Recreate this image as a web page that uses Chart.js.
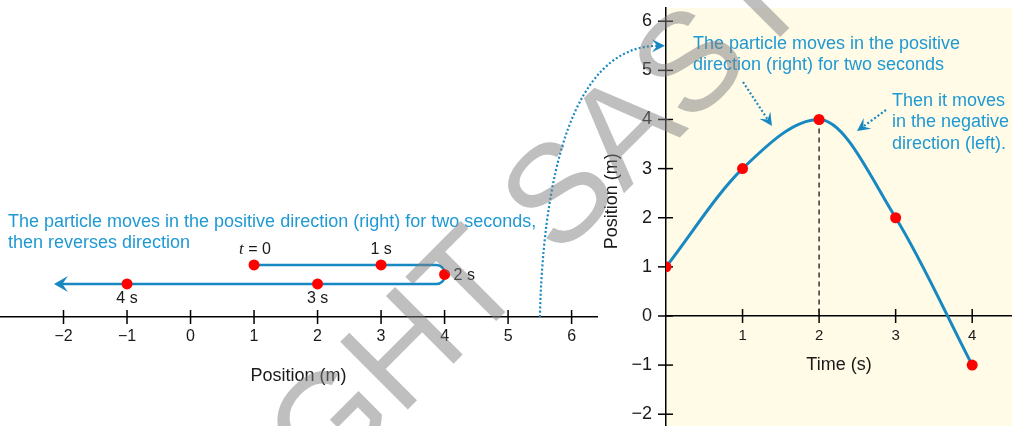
<!DOCTYPE html>
<html>
<head>
<meta charset="utf-8">
<script src="https://cdn.jsdelivr.net/npm/chart.js@4.4.0/dist/chart.umd.min.js"></script>
<style>
  body { margin: 0; background: #fff; }
  #wrap { position: relative; width: 1012px; height: 426px; }
  #wrap canvas { position: absolute; left: 0; top: 0; }
</style>
</head>
<body>
<div id="wrap">
  <canvas id="graph" width="1012" height="426"></canvas>
  <canvas id="line" width="1012" height="426"></canvas>
</div>
<script>
// motion data: time (s) and position (m)
const times = [0, 1, 2, 3, 4];
const positions = [1, 3, 4, 2, -1];
const timeLabels = ["t = 0", "1 s", "2 s", "3 s", "4 s"];

// tick labels
const lineTicks = [-2, -1, 0, 1, 2, 3, 4, 5, 6];
const timeTicks = [1, 2, 3, 4];
const posTicks = [-2, -1, 0, 1, 2, 3, 4, 5, 6];

// where the arrow on the number line stops, and where the link arrow starts
const arrowEnd = -2.15;
const linkPos = 5.5;

const BLUE = "#1788c1";
const TEXT_BLUE = "#1f99d3";
const FONT = "'Liberation Sans', Arial, sans-serif";
Chart.defaults.font.family = FONT;
Chart.defaults.color = "#1a1a1a";

const peak = positions.indexOf(Math.max(...positions));
const HI = 1, MID = 0.5, LO = 0;
const lane = (i) => (i < peak ? HI : i === peak ? MID : LO);

const fmt = (v) => (v < 0 ? "\u2212" + Math.abs(v) : String(v));

// keep tick labels from shrinking the plot area
const noPad = (s) => {
  s.paddingTop = 0;
  s.paddingBottom = 0;
  s.paddingLeft = 0;
  s.paddingRight = 0;
};

function arrowHead(ctx, x, y, ang, len, half, color) {
  const c = Math.cos(ang), s = Math.sin(ang);
  ctx.save();
  ctx.fillStyle = color;
  ctx.beginPath();
  ctx.moveTo(x, y);
  ctx.lineTo(x - len * c - half * s, y - len * s + half * c);
  ctx.lineTo(x - len * 0.6 * c, y - len * 0.6 * s);
  ctx.lineTo(x - len * c + half * s, y - len * s - half * c);
  ctx.closePath();
  ctx.fill();
  ctx.restore();
}

function dottedArrow(ctx, x0, y0, x1, y1) {
  const ang = Math.atan2(y1 - y0, x1 - x0);
  ctx.save();
  ctx.strokeStyle = BLUE;
  ctx.lineWidth = 2.2;
  ctx.setLineDash([2, 2.2]);
  ctx.beginPath();
  ctx.moveTo(x0, y0);
  ctx.lineTo(x1 - 8 * Math.cos(ang), y1 - 8 * Math.sin(ang));
  ctx.stroke();
  ctx.restore();
  arrowHead(ctx, x1, y1, ang, 13, 6.5, BLUE);
}

function crossTick(ctx, x0, y0, x1, y1) {
  ctx.beginPath();
  ctx.moveTo(x0, y0);
  ctx.lineTo(x1, y1);
  ctx.stroke();
}

// position-time graph decorations
const graphDecor = {
  id: "graphDecor",
  beforeDraw(chart) {
    const { ctx, chartArea: ca } = chart;
    ctx.save();
    ctx.fillStyle = "#fffbe7";
    ctx.fillRect(ca.left, ca.top, ca.right - ca.left, ca.bottom - ca.top);
    ctx.restore();
  },
  beforeDatasetsDraw(chart) {
    const { ctx, chartArea: ca } = chart;
    const xs = chart.scales.x, ys = chart.scales.y;
    const y0 = ys.getPixelForValue(0);
    ctx.save();
    ctx.strokeStyle = "#000";
    ctx.lineWidth = 1.5;
    ys.ticks.forEach((t) => {
      const py = ys.getPixelForValue(t.value);
      crossTick(ctx, ca.left - 8, py, ca.left + 7, py);
    });
    xs.ticks.forEach((t) => {
      const px = xs.getPixelForValue(t.value);
      crossTick(ctx, px, y0 - 7, px, y0 + 7);
    });
    // y axis title
    ctx.translate(612, (ys.getPixelForValue(3) + ys.getPixelForValue(2)) / 2 + 8);
    ctx.rotate(-Math.PI / 2);
    ctx.fillStyle = "#1a1a1a";
    ctx.font = "18px " + FONT;
    ctx.textAlign = "center";
    ctx.textBaseline = "middle";
    ctx.fillText("Position (m)", 0, 0);
    ctx.restore();
  },
  afterDatasetsDraw(chart) {
    const { ctx, chartArea: ca } = chart;
    ctx.save();
    ctx.fillStyle = TEXT_BLUE;
    ctx.font = "18px " + FONT;
    ctx.textBaseline = "middle";
    ctx.fillText("The particle moves in the positive", ca.left + 27, ca.top + 36);
    ctx.fillText("direction (right) for two seconds", ca.left + 27, ca.top + 57);
    ctx.fillText("Then it moves", ca.left + 226, ca.top + 93);
    ctx.fillText("in the negative", ca.left + 226, ca.top + 114);
    ctx.fillText("direction (left).", ca.left + 226, ca.top + 136);
    ctx.restore();
    dottedArrow(ctx, ca.left + 77, ca.top + 74, ca.left + 106, ca.top + 118);
    dottedArrow(ctx, ca.left + 220, ca.top + 102, ca.left + 191, ca.top + 123);
  }
};

const graph = new Chart(document.getElementById("graph"), {
  type: "scatter",
  data: {
    datasets: [
      {
        data: times.map((t, i) => ({ x: t, y: positions[i] })),
        showLine: true,
        borderColor: BLUE,
        borderWidth: 3,
        cubicInterpolationMode: "monotone",
        pointRadius: 5.5,
        pointHoverRadius: 5.5,
        pointBackgroundColor: "#ff0000",
        pointBorderWidth: 0
      },
      {
        data: [
          { x: times[peak], y: positions[peak] },
          { x: times[peak], y: 0 }
        ],
        showLine: true,
        borderColor: "#333",
        borderWidth: 1.5,
        borderDash: [5, 4],
        pointRadius: 0
      }
    ]
  },
  options: {
    responsive: false,
    animation: false,
    devicePixelRatio: 1,
    events: [],
    layout: { autoPadding: false, padding: { left: 580, top: 8, right: 0, bottom: 0 } },
    plugins: { legend: { display: false }, tooltip: { enabled: false } },
    scales: {
      x: {
        type: "linear",
        min: 0,
        max: 4.52,
        position: { y: 0 },
        afterBuildTicks: (s) => { s.ticks = timeTicks.map((v) => ({ value: v })); },
        afterFit: noPad,
        grid: { display: false, tickLength: 7 },
        border: { color: "#000", width: 1.5 },
        ticks: { font: { size: 15 }, padding: 4, callback: fmt },
        title: { display: true, text: "Time (s)", font: { size: 18 }, color: "#1a1a1a", padding: { top: 5, bottom: 0 } }
      },
      y: {
        min: -2.24,
        max: 6.27,
        afterBuildTicks: (s) => { s.ticks = posTicks.map((v) => ({ value: v })); },
        afterFit: (s) => { noPad(s); s.width = 86; },
        grid: { display: false, tickLength: 8 },
        border: { color: "#000", width: 1.5 },
        ticks: { font: { size: 18 }, padding: 6, callback: fmt }
      }
    }
  },
  plugins: [graphDecor]
});

// number line decorations
const lineDecor = {
  id: "lineDecor",
  beforeDatasetsDraw(chart) {
    const { ctx, chartArea: ca } = chart;
    const xs = chart.scales.x, ys = chart.scales.y;
    const y0 = ca.bottom;
    ctx.save();
    ctx.strokeStyle = "#000";
    ctx.lineWidth = 1.5;
    xs.ticks.forEach((t) => {
      const px = xs.getPixelForValue(t.value);
      crossTick(ctx, px, y0 - 7, px, y0 + 7);
    });

    // path of the particle
    const yHi = ys.getPixelForValue(HI), yLo = ys.getPixelForValue(LO);
    const xStart = xs.getPixelForValue(positions[0]);
    const xTurn = xs.getPixelForValue(positions[peak]);
    const xEnd = xs.getPixelForValue(arrowEnd);
    ctx.strokeStyle = BLUE;
    ctx.lineWidth = 2.6;
    ctx.beginPath();
    ctx.moveTo(xStart, yHi);
    ctx.arcTo(xTurn, yHi, xTurn, yLo, 8);
    ctx.arcTo(xTurn, yLo, xEnd, yLo, 8);
    ctx.lineTo(xEnd + 8, yLo);
    ctx.stroke();
    ctx.restore();
    arrowHead(ctx, xEnd, yLo, Math.PI, 14, 8, BLUE);
  },
  afterDatasetsDraw(chart) {
    const { ctx, chartArea: ca } = chart;
    const xs = chart.scales.x, ys = chart.scales.y;
    ctx.save();
    ctx.fillStyle = "#1a1a1a";
    ctx.textBaseline = "middle";
    positions.forEach((p, i) => {
      const px = xs.getPixelForValue(p), py = ys.getPixelForValue(lane(i));
      const label = timeLabels[i];
      if (i < peak) {
        if (label.startsWith("t")) {
          const rest = label.slice(1);
          ctx.font = "italic 17px 'Liberation Serif', serif";
          const w1 = ctx.measureText("t").width;
          ctx.font = "16px " + FONT;
          const w2 = ctx.measureText(rest).width;
          const x0 = px + 1 - (w1 + w2) / 2;
          ctx.textAlign = "left";
          ctx.font = "italic 17px 'Liberation Serif', serif";
          ctx.fillText("t", x0, py - 15.5);
          ctx.font = "16px " + FONT;
          ctx.fillText(rest, x0 + w1, py - 15.5);
        } else {
          ctx.font = "16px " + FONT;
          ctx.textAlign = "center";
          ctx.fillText(label, px, py - 15.5);
        }
      } else if (i === peak) {
        ctx.font = "16px " + FONT;
        ctx.textAlign = "left";
        ctx.fillText(label, px + 9, py + 1);
      } else {
        ctx.font = "16px " + FONT;
        ctx.textAlign = "center";
        ctx.fillText(label, px, py + 15);
      }
    });

    ctx.fillStyle = TEXT_BLUE;
    ctx.font = "18px " + FONT;
    ctx.textAlign = "left";
    ctx.fillText("The particle moves in the positive direction (right) for two seconds,", ca.left + 8, 222);
    ctx.fillText("then reverses direction", ca.left + 8, 243);
    ctx.restore();

    // dotted link from the number line to the graph's position axis
    const sx = xs.getPixelForValue(linkPos), sy = ca.bottom;
    const gx = graph.scales.x.getPixelForValue(0) - 1;
    const gy = graph.scales.y.getPixelForValue(linkPos);
    ctx.save();
    ctx.strokeStyle = BLUE;
    ctx.lineWidth = 2.2;
    ctx.setLineDash([2, 2.2]);
    ctx.beginPath();
    ctx.moveTo(sx, sy);
    ctx.bezierCurveTo(sx + 5, sy - 0.69 * (sy - gy), sx + 50, gy, gx - 7, gy);
    ctx.stroke();
    ctx.restore();
    arrowHead(ctx, gx, gy, 0, 13, 6.5, BLUE);
  },
  afterDraw(chart) {
    const ctx = chart.ctx;
    ctx.save();
    ctx.translate(531, 232);
    ctx.rotate((-45 * Math.PI) / 180);
    ctx.font = "139px " + FONT;
    ctx.fillStyle = "rgba(128,128,128,0.5)";
    ctx.textBaseline = "middle";
    ctx.textAlign = "right";
    ctx.fillText("COPYRIGHT ", 0, 0);
    ctx.textAlign = "left";
    ctx.fillText("SASTRA", 0, 0);
    ctx.restore();
  }
};

new Chart(document.getElementById("line"), {
  type: "scatter",
  data: {
    datasets: [
      {
        data: positions.map((p, i) => ({ x: p, y: lane(i) })),
        pointRadius: 5.5,
        pointHoverRadius: 5.5,
        pointBackgroundColor: "#ff0000",
        pointBorderWidth: 0
      }
    ]
  },
  options: {
    responsive: false,
    animation: false,
    devicePixelRatio: 1,
    events: [],
    layout: { autoPadding: false, padding: { left: 0, right: 415, top: 0, bottom: 0 } },
    plugins: { legend: { display: false }, tooltip: { enabled: false } },
    scales: {
      x: {
        type: "linear",
        min: -3,
        max: 6.4,
        afterBuildTicks: (s) => { s.ticks = lineTicks.map((v) => ({ value: v })); },
        afterFit: (s) => { noPad(s); s.height = 109; },
        grid: { display: false, tickLength: 7 },
        border: { color: "#000", width: 1.5 },
        ticks: { font: { size: 16 }, padding: 3, callback: fmt },
        title: { display: true, text: "Position (m)", font: { size: 18 }, color: "#1a1a1a", padding: { top: 0, bottom: 39 } }
      },
      y: { display: false, min: -1.74, max: 14.95 }
    }
  },
  plugins: [lineDecor]
});
</script>
</body>
</html>
